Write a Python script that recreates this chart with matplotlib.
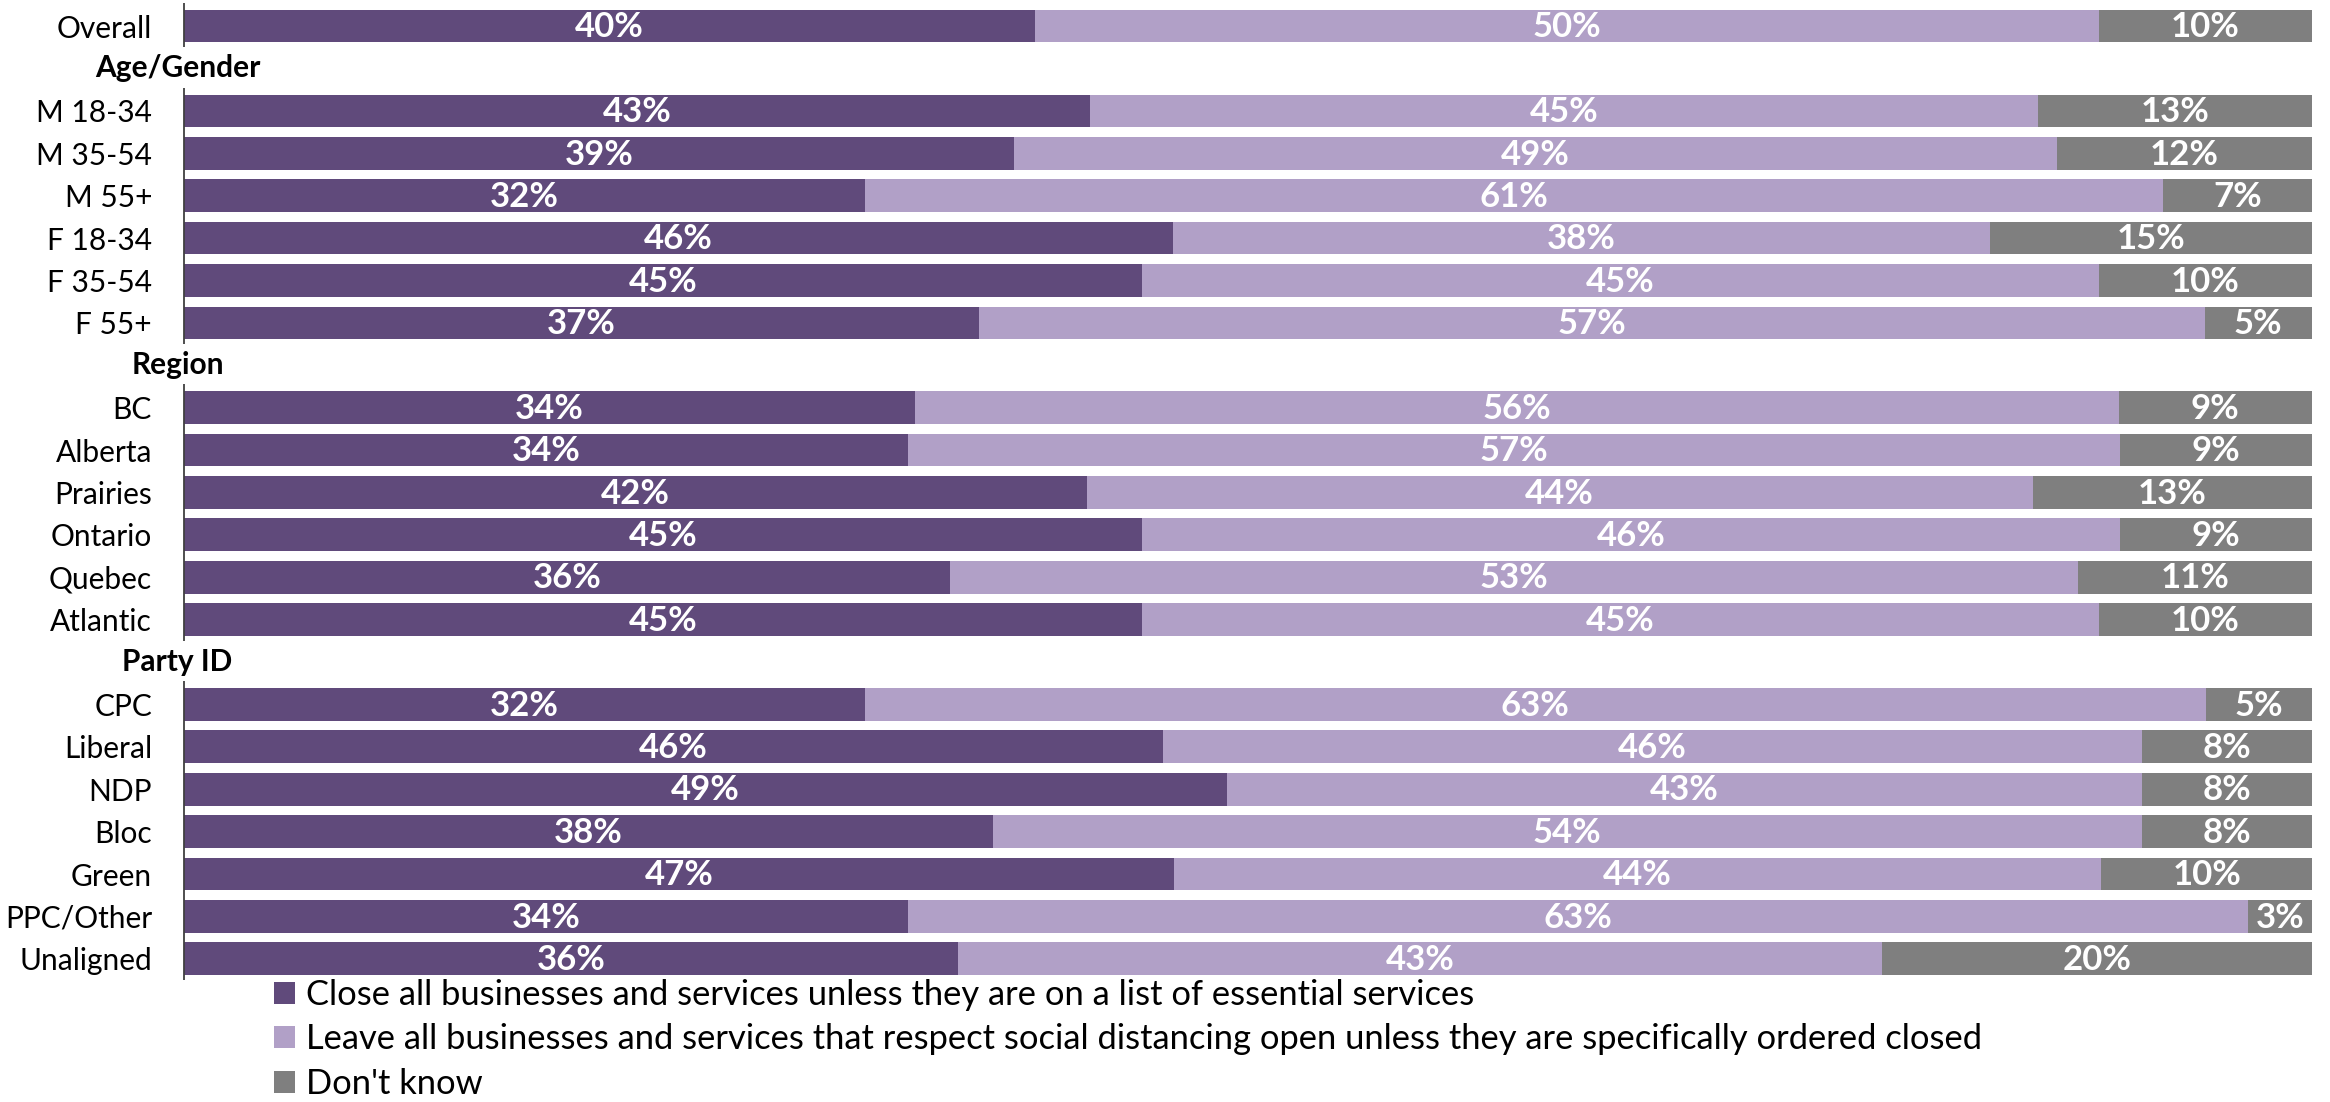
import matplotlib
matplotlib.use("Agg")
import matplotlib.pyplot as plt
import numpy as np

plt.rcParams['font.family'] = ['Lato', 'DejaVu Sans']

# ---- data ----
categories = ["Overall",
              "M 18-34", "M 35-54", "M 55+", "F 18-34", "F 35-54", "F 55+",
              "BC", "Alberta", "Prairies", "Ontario", "Quebec", "Atlantic",
              "CPC", "Liberal", "NDP", "Bloc", "Green", "PPC/Other", "Unaligned"]
groups = [("", ["Overall"]),
          ("Age/Gender", ["M 18-34", "M 35-54", "M 55+", "F 18-34", "F 35-54", "F 55+"]),
          ("Region", ["BC", "Alberta", "Prairies", "Ontario", "Quebec", "Atlantic"]),
          ("Party ID", ["CPC", "Liberal", "NDP", "Bloc", "Green", "PPC/Other", "Unaligned"])]
close_all = [40, 43, 39, 32, 46, 45, 37, 34, 34, 42, 45, 36, 45, 32, 46, 49, 38, 47, 34, 36]
leave_open = [50, 45, 49, 61, 38, 45, 57, 56, 57, 44, 46, 53, 45, 63, 46, 43, 54, 44, 63, 43]
dont_know = [10, 13, 12, 7, 15, 10, 5, 9, 9, 13, 9, 11, 10, 5, 8, 8, 8, 10, 3, 20]
series_names = ["Close all businesses and services unless they are on a list of essential services",
                "Leave all businesses and services that respect social distancing open unless they are specifically ordered closed",
                "Don't know"]
colors = ["#604a7b", "#b1a0c7", "#7f7f7f"]

W, H = 2330, 1102
fig = plt.figure(figsize=(W / 100, H / 100), dpi=100)
ax_top_px, ax_bot_px = 4, 980
ax = fig.add_axes([184 / W, 1 - ax_bot_px / H, (2312 - 184) / W, (ax_bot_px - ax_top_px) / H])

# row positions including header slots
rows = {}
headers = []
spans = []
r = 0
for gname, members in groups:
    if gname:
        headers.append((gname, r))
        r += 1
    start = r
    for m in members:
        rows[m] = r
        r += 1
    spans.append((start, r - 1))

y = np.array([rows[c] for c in categories], dtype=float)
vals = np.array([close_all, leave_open, dont_know], dtype=float)
tot = vals.sum(axis=0)
shares = vals / tot * 100

left = np.zeros(len(categories))
for k in range(3):
    ax.barh(y, shares[k], left=left, height=0.77, color=colors[k],
            edgecolor='none', label=series_names[k])
    for i in range(len(categories)):
        ax.text(left[i] + shares[k][i] / 2, y[i] + 0.03, f"{int(vals[k][i])}%",
                ha='center', va='center', color='white', fontsize=25,
                fontweight='bold')
    left += shares[k]

ax.set_xlim(0, 100)
ax.set_ylim(22.5, -0.52)
for s in ax.spines.values():
    s.set_visible(False)
ax.set_xticks([])
ax.set_yticks(y)
ax.set_yticklabels(categories, fontsize=21.5)
ax.tick_params(axis='y', length=0, pad=23)

for a, b in spans:
    ax.vlines(0, a - 0.55, b + 0.5, color='#404040', lw=1.3, clip_on=False)

for gname, gr in headers:
    ax.text(-0.3, gr, gname, ha='center', va='center', fontsize=21.5,
            fontweight='bold', color='black')

handles, labels = ax.get_legend_handles_labels()
leg = fig.legend(handles, labels, loc='upper left',
                 bbox_to_anchor=(274 / W, 1 - 979 / H), frameon=False,
                 fontsize=24.8, handlelength=0.62, handleheight=0.62,
                 handletextpad=0.3, labelspacing=0.36, borderaxespad=0,
                 borderpad=0)

fig.savefig("out.png", dpi=100)
